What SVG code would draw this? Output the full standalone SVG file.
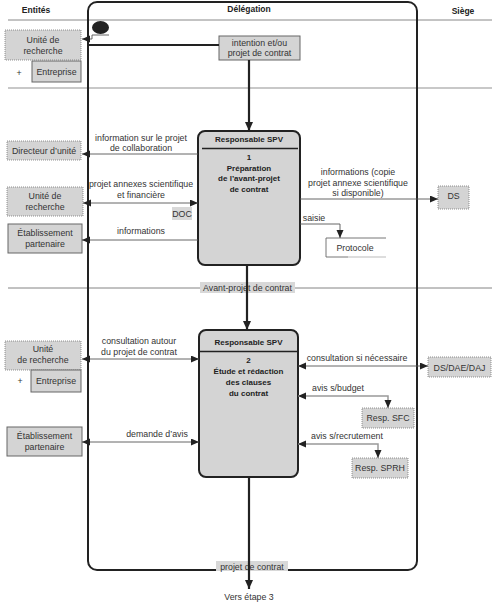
<svg xmlns="http://www.w3.org/2000/svg" width="500" height="602" viewBox="0 0 500 602">
<style>
text{font-family:"Liberation Sans",Arial,sans-serif;font-size:8.8px;fill:#333}
.h{font-weight:bold;font-size:8.5px;fill:#222}
.b{font-weight:bold;font-size:8px;fill:#222}
.c{text-anchor:middle}
.dot{fill:#d4d4d4;stroke:#777;stroke-width:0.8;stroke-dasharray:1,1}
.sol{fill:#d4d4d4;stroke:#666;stroke-width:1}
.lbl{fill:#d8d8d8;stroke:none}
.proc{fill:#d4d4d4;stroke:#222;stroke-width:2}
.thin{fill:none;stroke:#555;stroke-width:0.9}
.gray{fill:none;stroke:#999;stroke-width:1.5}
.thick{fill:none;stroke:#222;stroke-width:2.2}
</style>
<defs>
<marker id="a" markerUnits="userSpaceOnUse" markerWidth="9" markerHeight="8" refX="8" refY="3.5" orient="auto-start-reverse"><path d="M0,0 L8,3.5 L0,7 z" fill="#222"/></marker>
<marker id="A" markerUnits="userSpaceOnUse" markerWidth="10" markerHeight="10" refX="9" refY="4" orient="auto"><path d="M0,0 L9,4 L0,8 z" fill="#222"/></marker>
</defs>

<g id="lanes">
<line x1="8" y1="20" x2="492" y2="20" stroke="#888" stroke-width="1"/>
<line x1="8" y1="88" x2="492" y2="88" stroke="#c8c8c8" stroke-width="2"/>
<line x1="8" y1="288" x2="492" y2="288" stroke="#777" stroke-width="0.9"/>
<text x="36" y="13" class="h c">Entités</text>
<text x="249" y="12" class="h c">Délégation</text>
<text x="463" y="14" class="h c">Siège</text>
<rect x="88" y="2" width="329" height="568" rx="9" fill="none" stroke="#222" stroke-width="2"/>
</g>

<g id="start">
<ellipse cx="100.5" cy="27.5" rx="8.5" ry="6.5" fill="#222"/>
</g>

<g id="ur1"><rect x="5" y="30" width="76" height="30" class="dot"/><text x="43" y="43" class="c">Unité de</text><text x="43" y="54" class="c">recherche</text></g>
<g id="ent1"><text x="19" y="76" class="c">+</text><rect x="32" y="61" width="49" height="21" class="sol"/><text x="56.5" y="74.5" class="c">Entreprise</text></g>
<g id="intention"><rect x="219" y="36" width="81" height="24" class="sol"/><text x="259.5" y="45.5" class="c">intention et/ou</text><text x="259.5" y="56" class="c">projet de contrat</text></g>

<g id="dir"><rect x="7" y="141" width="74" height="19" class="dot"/><text x="44" y="153.5" class="c">Directeur d’unité</text></g>
<g id="ur2"><rect x="7" y="187" width="76" height="29" class="dot"/><text x="45" y="199" class="c">Unité de</text><text x="45" y="210" class="c">recherche</text></g>
<g id="etab1"><rect x="8" y="224" width="74" height="29" class="sol"/><text x="45" y="236" class="c">Établissement</text><text x="45" y="247" class="c">partenaire</text></g>

<g id="step1">
<rect x="198" y="131" width="102" height="134" rx="7" class="proc"/>
<line x1="202" y1="148.5" x2="298" y2="148.5" stroke="#222" stroke-width="1.5"/>
<text x="249" y="142" class="b c">Responsable SPV</text>
<text x="249" y="160" class="b c">1</text>
<text x="249" y="170.5" class="b c">Préparation</text>
<text x="249" y="181" class="b c">de l’avant-projet</text>
<text x="249" y="191.5" class="b c">de contrat</text>
</g>
<g id="doc"><rect x="172" y="207" width="20" height="13" class="lbl"/><text x="182" y="217" class="c">DOC</text></g>
<g id="ds"><rect x="438" y="186" width="31" height="23" class="dot"/><text x="453.5" y="199" class="c">DS</text></g>
<g id="protocole">
<path d="M386,238 H326 V257 H348" fill="none" stroke="#666" stroke-width="0.9"/>
<line x1="348" y1="257" x2="386" y2="257" stroke="#bbb" stroke-width="1.2"/>
<text x="355" y="251" class="c">Protocole</text>
</g>

<g id="avant"><rect x="200" y="282" width="95" height="11" class="lbl"/><text x="247.5" y="291" class="c">Avant-projet de contrat</text></g>

<g id="ur3"><rect x="5" y="341" width="76" height="29" class="dot"/><text x="43" y="352" class="c">Unité</text><text x="43" y="363" class="c">de recherche</text></g>
<g id="ent2"><text x="20" y="384" class="c">+</text><rect x="31" y="370" width="50" height="22" class="sol"/><text x="56" y="384" class="c">Entreprise</text></g>
<g id="etab2"><rect x="7" y="427" width="75" height="29" class="sol"/><text x="44.5" y="439" class="c">Établissement</text><text x="44.5" y="450" class="c">partenaire</text></g>

<g id="step2">
<rect x="199" y="330" width="99" height="147" rx="7" class="proc"/>
<line x1="200" y1="351.5" x2="297" y2="351.5" stroke="#222" stroke-width="1.5"/>
<text x="248.5" y="345" class="b c">Responsable SPV</text>
<text x="248.5" y="363" class="b c">2</text>
<text x="248.5" y="374" class="b c">Étude et rédaction</text>
<text x="248.5" y="385" class="b c">des clauses</text>
<text x="248.5" y="396" class="b c">du contrat</text>
</g>

<g id="dsdae"><rect x="428" y="357" width="63" height="20" class="dot"/><text x="459.5" y="370.5" class="c">DS/DAE/DAJ</text></g>
<g id="sfc"><rect x="362" y="408" width="52" height="20" class="dot"/><text x="388" y="421" class="c">Resp. SFC</text></g>
<g id="sprh"><rect x="352" y="458" width="56" height="20" class="dot"/><text x="380" y="471" class="c">Resp. SPRH</text></g>

<g id="fin"><rect x="216" y="561" width="72" height="10" class="lbl"/><text x="252" y="569.5" class="c">projet de contrat</text><text x="249" y="600" class="c">Vers étape 3</text></g>

<g id="connectors">
<path d="M92,35 H109" class="thin"/>
<path d="M92,35 V39 H82" class="thin" marker-end="url(#a)"/>
<path d="M88,45 H219" class="thick"/>
<path d="M249,60 V131" class="thick" marker-end="url(#A)"/>
<path d="M198,154 H82" class="thin" marker-end="url(#a)"/>
<text x="141" y="141" class="c">information sur le projet</text>
<text x="141" y="151" class="c">de collaboration</text>
<path d="M83,203 H198" class="thin" marker-start="url(#a)" marker-end="url(#a)"/>
<text x="141" y="187" class="c">projet annexes scientifique</text>
<text x="141" y="197.5" class="c">et financière</text>
<path d="M198,240 H82" class="thin" marker-end="url(#a)"/>
<text x="141" y="234" class="c">informations</text>
<path d="M300,199 H438" class="thin" marker-end="url(#a)"/>
<text x="358" y="175" class="c">informations (copie</text>
<text x="358" y="185.5" class="c">projet annexe scientifique</text>
<text x="358" y="196" class="c">si disponible)</text>
<path d="M300,224 H340 V238" class="thin" marker-end="url(#a)"/>
<text x="314" y="221" class="c">saisie</text>
<path d="M247,265 V330" class="thick" marker-end="url(#A)"/>
<path d="M82,359 H199" class="thin" marker-start="url(#a)" marker-end="url(#a)"/>
<text x="139" y="344" class="c">consultation autour</text>
<text x="139" y="354.5" class="c">du projet de contrat</text>
<path d="M82,442 H199" class="thin" marker-start="url(#a)" marker-end="url(#a)"/>
<text x="157" y="437" class="c">demande d’avis</text>
<path d="M298,366 H428" class="thin" marker-start="url(#a)" marker-end="url(#a)"/>
<text x="357" y="361" class="c">consultation si nécessaire</text>
<path d="M298,396 H388 V408" class="gray" marker-start="url(#a)" marker-end="url(#a)"/>
<text x="338" y="391" class="c">avis s/budget</text>
<path d="M298,444 H378 V458" class="gray" marker-start="url(#a)" marker-end="url(#a)"/>
<text x="347" y="439" class="c">avis s/recrutement</text>
<path d="M249,477 V589" class="thick" marker-end="url(#A)"/>
</g>
</svg>
